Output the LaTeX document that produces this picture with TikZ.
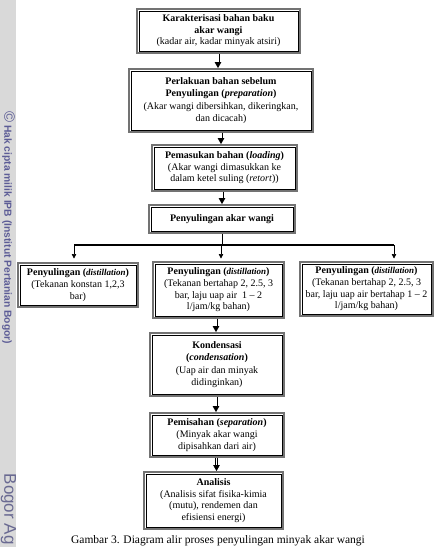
\documentclass[tikz,border=0pt]{standalone}
\usepackage{fontspec}
\setmainfont{Liberation Serif}
\newfontfamily\wmfont{Liberation Sans}
\usetikzlibrary{arrows.meta,calc}
\definecolor{wmgray}{RGB}{217,217,217}
\definecolor{wmtext}{RGB}{92,92,150}
\definecolor{wmtextb}{RGB}{105,105,145}
\newcommand{\distil}{{\fontsize{9}{11.6}\selectfont\textit{distillation}}}
\tikzset{
  box/.style={draw=black!55, line width=1.8pt, fill=white, align=center, inner sep=0pt,
    font=\fontsize{10}{11.6}\selectfont},
  innerline/.style={draw=black, line width=0.55pt},
  dbl/.style={double, double distance=1.5pt, line width=0.75pt, draw=black},
  dblarrow/.style={dbl, -{Triangle[length=6pt,width=6.5pt]}},
  branch/.style={draw=black, line width=1.1pt},
  thinarrow/.style={draw=black, line width=0.6pt, -{Triangle[length=4.5pt,width=4.5pt]}},
}
\begin{document}
\begin{tikzpicture}[x=1pt,y=-1pt]
\useasboundingbox (0,0) rectangle (434,547);
% watermark strip
\fill[wmgray] (0,0) rectangle (16,547);
\node[rotate=-90, anchor=west, text=wmtext, inner sep=0pt] (wm1) at (8.5,111)
  {\wmfont\fontsize{15}{15}\selectfont ©\fontsize{10.3}{11}\selectfont\bfseries\ Hak cipta milik IPB (Institut Pertanian Bogor)};
\node[rotate=-90, anchor=west, text=wmtextb, font=\wmfont\fontsize{17}{18}\selectfont, inner sep=0pt] (wm2) at (8.5,473.5) {Bogor Ag};

% boxes
\node[box, minimum width=163pt, minimum height=44pt] (b1) at (218.5,31)
  {\textbf{Karakterisasi bahan baku}\\\textbf{akar wangi}\\(kadar air, kadar minyak atsiri)};
\node[box, minimum width=184pt, minimum height=63pt, font=\fontsize{10}{12.6}\selectfont] (b2) at (221,100.5)
  {\textbf{Perlakuan bahan sebelum}\\\textbf{Penyulingan (\textit{preparation})}\\(Akar wangi dibersihkan, dikeringkan,\\dan dicacah)};
\node[box, minimum width=145pt, minimum height=46pt] (b3) at (224.5,168)
  {\textbf{Pemasukan bahan (\textit{loading})}\\(Akar wangi dimasukkan ke\\dalam ketel suling (\textit{retort}))};
\node[box, minimum width=146pt, minimum height=28pt] (b4) at (222,219)
  {\textbf{Penyulingan akar wangi}};
\node[box, minimum width=120pt, minimum height=44pt] (L) at (78,285)
  {\textbf{Penyulingan (\distil)}\\(Tekanan konstan 1,2,3\\bar)};
\node[box, minimum width=131pt, minimum height=56pt] (M) at (218.5,290)
  {\textbf{Penyulingan (\distil)}\\(Tekanan bertahap 2, 2.5, 3\\bar, laju uap air\ \ 1 -- 2\\l/jam/kg bahan)};
\node[box, minimum width=133pt, minimum height=54pt] (R) at (366.5,289)
  {\textbf{Penyulingan (\distil)}\\(Tekanan bertahap 2, 2.5, 3\\bar, laju uap air bertahap 1 -- 2\\l/jam/kg bahan)};
\node[box, minimum width=134pt, minimum height=63pt, font=\fontsize{10}{12.3}\selectfont] (K) at (217,364.5)
  {\textbf{Kondensasi}\\\textbf{(\textit{condensation})}\\(Uap air dan minyak\\didinginkan)};
\node[box, minimum width=134pt, minimum height=44pt] (P) at (217,435)
  {\textbf{Pemisahan (\textit{separation})}\\(Minyak akar wangi\\dipisahkan dari air)};
\node[box, minimum width=139pt, minimum height=57pt] (A) at (213.5,500.5)
  {\textbf{Analisis}\\(Analisis sifat fisika-kimia\\(mutu), rendemen dan\\efisiensi energi)};

% inner black lines
\foreach \n in {b1,b2,b3,b4,L,M,R,K,P,A}
  \draw[innerline] ([shift={(2.8pt,-2.8pt)}]\n.north west) rectangle ([shift={(-2.8pt,2.8pt)}]\n.south east);

% connectors
\draw[dblarrow] (b1.south -| 218,0) -- (b2.north -| 218,0);
\draw[dblarrow] (b2.south -| 221,0) -- (b3.north -| 221,0);
\draw[dblarrow] (b3.south -| b4.north) -- (b4.north);
\coordinate (split) at (221,245);
\coordinate (bl) at (74,245);
\coordinate (br) at (394,245);
\coordinate (tl) at (74,258.5);
\coordinate (tm) at (221,258.5);
\coordinate (tr) at (394,258.5);
\draw[dbl] (b4.south -| split) -- (split);
\draw[branch] (bl) -- (br);
\draw[thinarrow] (bl) -- (tl);
\draw[thinarrow] (split) -- (tm);
\draw[thinarrow] (br) -- (tr);
\draw[dblarrow] (M.south -| 216,0) -- (K.north -| 216,0);
\draw[dblarrow] (K.south -| 216,0) -- (P.north -| 216,0);
\draw[dblarrow] (P.south -| 216.5,0) -- (A.north -| 216.5,0);

% caption
\node[font=\fontsize{11.5}{13}\selectfont, inner sep=0pt] (cap) at (218,541)
  {Gambar 3. Diagram alir proses penyulingan minyak akar wangi};
\end{tikzpicture}
\end{document}
